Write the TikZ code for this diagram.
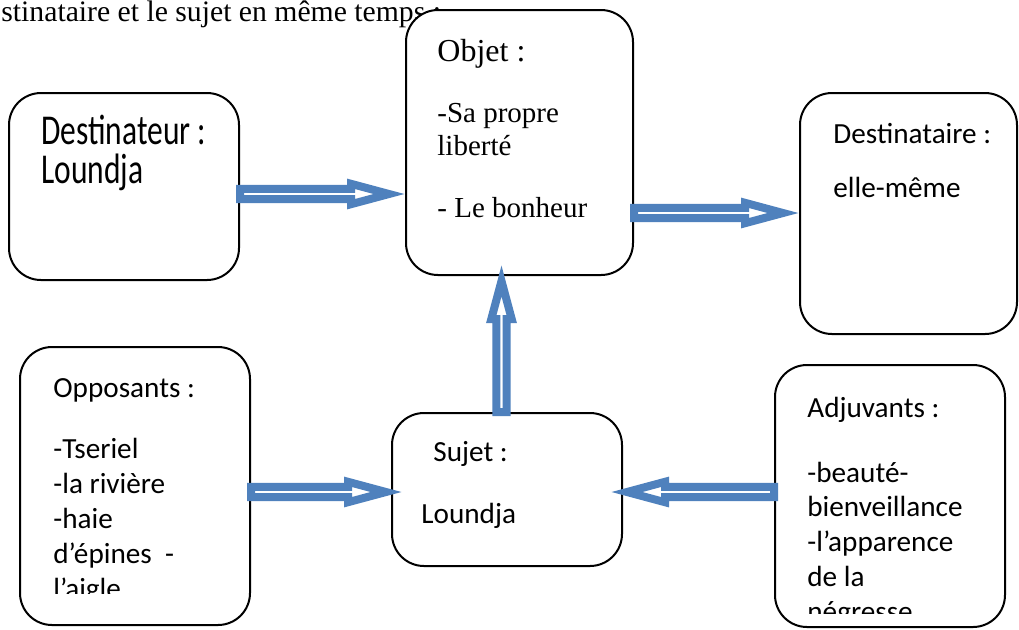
\documentclass[tikz,border=0pt]{standalone}
\usepackage{fontspec}
\usepackage{graphicx}
\setmainfont{Liberation Serif}
\newfontfamily\calibri{Carlito}
\usetikzlibrary{calc,fit}
\definecolor{ArrowBlue}{HTML}{4F81BD}
\tikzset{
  actbox/.style={draw,line width=1pt,rounded corners=16pt,fill=white,inner sep=0pt},
  txt/.style={anchor=base west,inner sep=0pt,font=\calibri\fontsize{14.6}{17}\selectfont},
  serif/.style={anchor=base west,inner sep=0pt,font=\fontsize{14.5}{17}\selectfont},
  blockarrow/.style={draw=ArrowBlue,line width=4pt,fill=white,line join=miter,
    to path={($(\tikztostart)!2.6pt!90:(\tikztotarget)$)
      -- ($($(\tikztotarget)!27pt!(\tikztostart)$)!2.6pt!90:(\tikztotarget)$)
      -- ($($(\tikztotarget)!27pt!(\tikztostart)$)!5.1pt!90:(\tikztotarget)$)
      -- ($(\tikztotarget)!8pt!(\tikztostart)$)
      -- ($($(\tikztotarget)!27pt!(\tikztostart)$)!5.1pt!-90:(\tikztotarget)$)
      -- ($($(\tikztotarget)!27pt!(\tikztostart)$)!2.6pt!-90:(\tikztotarget)$)
      -- ($(\tikztostart)!2.6pt!-90:(\tikztotarget)$) -- cycle}},
}
\begin{document}
\begin{tikzpicture}[x=0.5pt,y=-0.5pt]
  \useasboundingbox (0,0) rectangle (1019,629);

  \node[serif,font=\fontsize{14.85}{17}\selectfont] (intro) at (1,21)
    {stinataire et le sujet en même temps :};

  % the six boxes
  \node[actbox,fit={(9,93) (239,280)}] (dest) {};
  \node[actbox,fit={(406,10) (633,275)}] (obj) {};
  \node[actbox,fit={(800,93) (1017,334)}] (dstn) {};
  \node[actbox,fit={(20,347) (250,625)}] (opp) {};
  \node[actbox,fit={(392,413) (622,566)}] (suj) {};
  \node[actbox,fit={(775,365) (1005,627)}] (adj) {};

  % texts
  \node[txt,font=\calibri\fontsize{15.75}{17}\selectfont] (dest-1) at (41,144) {\scalebox{1}[1.35]{Destinateur :}};
  \node[txt,font=\calibri\fontsize{15.75}{17}\selectfont] (dest-2) at (41,183) {\scalebox{1}[1.35]{Loundja}};

  \node[serif,font=\fontsize{16}{18}\selectfont] (obj-1) at (437,61) {Objet :};
  \node[serif] (obj-2) at (437,122) {-Sa propre};
  \node[serif] (obj-3) at (437,155) {liberté};
  \node[serif] (obj-4) at (437,217) {- Le bonheur};

  \node[txt] (dstn-1) at (833,143) {Destinataire :};
  \node[txt] (dstn-2) at (833,197) {elle-même};

  \node[txt] (suj-1) at (433,461) {Sujet :};
  \node[txt] (suj-2) at (421,523) {Loundja};

  \begin{scope}
    \clip (20,347) rectangle (250,593);
    \foreach \yy/\lbltext [count=\i] in {397/Opposants :,458/-Tseriel,493/-la rivière,
        528/-haie,563/d’épines\ \ -,598/l’aigle}
      \node[txt] (opp-\i) at (53,\yy) {\lbltext};
  \end{scope}

  \begin{scope}
    \clip (775,365) rectangle (1005,613);
    \foreach \yy/\lbltext [count=\i] in {417/Adjuvants :,482/-beauté-,516/bienveillance,
        551/-l’apparence,586/de la,621/négresse}
      \node[txt] (adj-\i) at (807,\yy) {\lbltext};
  \end{scope}

  % block arrows
  \draw[blockarrow] (dest.east |- 0,194) to (obj.west |- 0,194);
  \draw[blockarrow] (obj.east |- 0,213) to (dstn.west |- 0,213);
  \draw[blockarrow] (adj.west |- 0,492) to ($(suj.east |- 0,492)+(-12,0)$);
  \draw[blockarrow] (opp.east |- 0,492) to ($(suj.west |- 0,492)+(11,0)$);
  \draw[blockarrow] (suj.north -| 501.5,0) to ($(obj.south -| 501.5,0)+(0,-11)$);
\end{tikzpicture}
\end{document}
